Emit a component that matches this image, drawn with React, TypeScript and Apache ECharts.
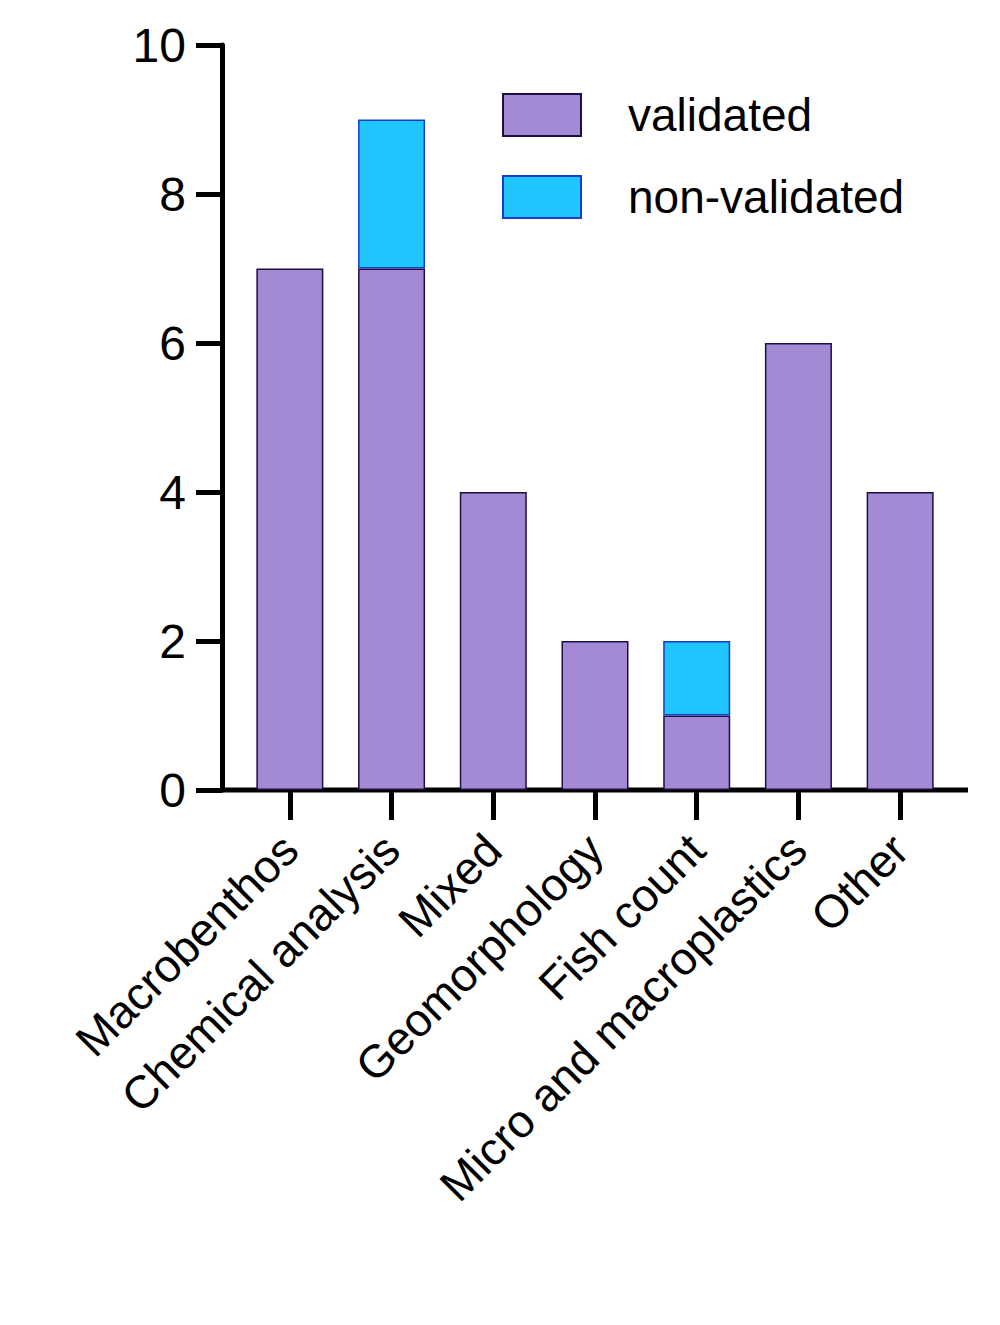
import { useRef, useEffect } from "react";
import * as echarts from "echarts";

const categories = ["Macrobenthos", "Chemical analysis", "Mixed", "Geomorphology", "Fish count", "Micro and macroplastics", "Other"];
const validated = [7, 7, 4, 2, 1, 6, 4];
const nonValidated = [0, 2, 0, 0, 1, 0, 0];
const yTicks = [0, 2, 4, 6, 8, 10];

const FONT = "Liberation Sans, Arial, sans-serif";

const option = {
  animation: false,
  textStyle: { fontFamily: FONT },
  grid: { left: 239, width: 712, top: 45, bottom: 535, containLabel: false },
  legend: {
    left: 497,
    top: 87,
    orient: "vertical",
    icon: "rect",
    itemWidth: 78,
    itemHeight: 42,
    itemGap: 36,
    textStyle: { fontSize: 46, color: "#000", padding: [0, 0, 0, 42], fontFamily: FONT },
    data: ["validated", "non-validated"],
  },
  xAxis: {
    type: "category",
    data: categories,
    axisLine: { show: false },
    axisTick: { show: true, alignWithLabel: true, length: 30, lineStyle: { color: "#000", width: 5 } },
    axisLabel: { rotate: 45, fontSize: 46, color: "#000", margin: 52, interval: 0 },
  },
  yAxis: {
    type: "value",
    min: 0,
    max: 10,
    interval: 2,
    offset: 17,
    splitLine: { show: false },
    axisLine: { show: true, lineStyle: { color: "#000", width: 5 } },
    axisTick: { show: true, length: 26, lineStyle: { color: "#000", width: 5 } },
    axisLabel: { fontSize: 48, color: "#000", margin: 36, formatter: (v: number) => (yTicks.includes(v) ? String(v) : "") },
  },
  series: [
    {
      name: "validated",
      type: "bar",
      stack: "a",
      barWidth: 67,
      data: validated,
      itemStyle: { color: "#A48AD4", borderColor: "#1c1040", borderWidth: 1.5 },
    },
    {
      name: "non-validated",
      type: "bar",
      stack: "a",
      barWidth: 67,
      data: nonValidated.map((v) => (v === 0 ? null : v)),
      itemStyle: { color: "#1EC5FF", borderColor: "#1a3cc8", borderWidth: 1.5 },
    },
  ],
  graphic: [
    { type: "line", shape: { x1: 220, y1: 790, x2: 968, y2: 790 }, style: { stroke: "#000", lineWidth: 5 } },
  ],
};

const App = () => {
  const chartRef = useRef<HTMLDivElement>(null);

  useEffect(() => {
    document.body.style.margin = "0";
    const myChart = echarts.init(chartRef.current, null, { renderer: "svg" });
    myChart.setOption(option);
    return () => {
      myChart.dispose();
    };
  }, []);

  return <div ref={chartRef} style={{ width: "1000px", height: "1325px", background: "#fff" }}></div>;
};

export default App;
